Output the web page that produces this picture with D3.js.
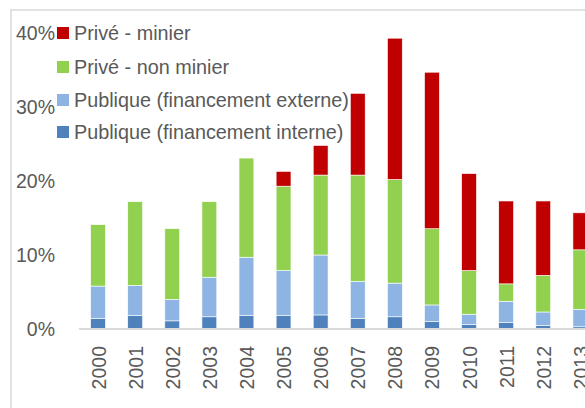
<!DOCTYPE html>
<html><head><meta charset="utf-8">
<script src="https://cdn.jsdelivr.net/npm/d3@7"></script>
<style>html,body{margin:0;padding:0;background:#fff;overflow:hidden}</style>
</head><body>
<svg id="c" width="585" height="408"></svg>
<script>
const years = ["2000","2001","2002","2003","2004","2005","2006","2007","2008","2009","2010","2011","2012","2013"];
const publiqueInterne = [1.45,1.8,1.1,1.65,1.8,1.8,1.9,1.45,1.65,1.0,0.6,0.85,0.45,0.3];
const publiqueExterne = [4.35,4.1,2.9,5.35,7.9,6.1,8.1,5.0,4.55,2.25,1.4,2.9,1.85,2.35];
const priveNonMinier = [8.3,11.3,9.55,10.2,13.4,11.4,10.8,14.35,14.0,10.3,5.9,2.35,4.95,8.05];
const priveMinier = [0,0,0,0,0,2.0,4.0,11.05,19.1,21.15,13.1,11.2,10.05,5.0];
const seriesNames = ["Publique (financement interne)","Publique (financement externe)","Privé - non minier","Privé - minier"];
const seriesColors = ["#4F81BD","#8EB4E3","#92D050","#C00000"];
const yTicks = [0,10,20,30,40];

const svg = d3.select("#c");
const font = "'Liberation Sans', Arial, sans-serif";
const textColor = "#595959";

// chart frame
svg.append("rect").attr("x",11).attr("y",10).attr("width",700).attr("height",500)
  .attr("fill","none").attr("stroke","#D9D9D9").attr("stroke-width",1.5);

const rows = years.map((y,i)=>({year:y, s0:publiqueInterne[i], s1:publiqueExterne[i], s2:priveNonMinier[i], s3:priveMinier[i]}));
const stack = d3.stack().keys(["s0","s1","s2","s3"]);
const layers = stack(rows);

const x = d3.scaleBand().domain(years).range([79.5, 598.9]).paddingInner(0.6).paddingOuter(0.3);
const y = d3.scaleLinear().domain([0,40]).range([329,33]);

const g = svg.append("g");
layers.forEach((layer,k)=>{
  g.selectAll(null).data(layer).enter().append("rect")
    .attr("x", d=>x(d.data.year))
    .attr("width", x.bandwidth())
    .attr("y", d=>y(d[1]))
    .attr("height", d=>Math.max(0, y(d[0])-y(d[1])))
    .attr("fill", seriesColors[k])
    .attr("stroke", d=> (d[1]-d[0])>0 ? "#fff" : "none")
    .attr("stroke-width", 0.6);
});

// baseline
svg.append("line").attr("x1",79).attr("x2",600).attr("y1",y(0)).attr("y2",y(0))
  .attr("stroke","#D9D9D9").attr("stroke-width",2);

// y axis labels
const yAxis = d3.axisLeft(y).tickValues(yTicks).tickFormat(d=>d+"%").tickSize(0).tickPadding(0);
const ya = svg.append("g").attr("transform","translate(55,0)").call(yAxis);
ya.select(".domain").remove();
ya.selectAll("text").attr("font-family",font).attr("font-size",19.5).attr("fill",textColor).attr("dy","0.35em");

// x axis labels
const xAxis = d3.axisBottom(x).tickSize(0).tickPadding(0);
const xa = svg.append("g").attr("transform",`translate(0,${y(0)})`).call(xAxis);
xa.select(".domain").remove();
xa.selectAll("text").attr("font-family",font).attr("font-size",19.5).attr("fill",textColor)
  .attr("text-anchor","end").attr("dy",null).attr("y",0)
  .attr("transform","translate(7.5,17) rotate(-90)");

// legend
const legendOrder = [3,2,1,0];
const legendY = [33,67,100,132];
const lg = svg.append("g");
legendOrder.forEach((k,i)=>{
  lg.append("rect").attr("x",57).attr("y",legendY[i]-6).attr("width",12).attr("height",12).attr("fill",seriesColors[k]);
  lg.append("text").attr("x",74).attr("y",legendY[i]).attr("dy","0.35em")
    .attr("font-family",font).attr("font-size",19.8).attr("fill",textColor).text(seriesNames[k]);
});
</script>
</body></html>
